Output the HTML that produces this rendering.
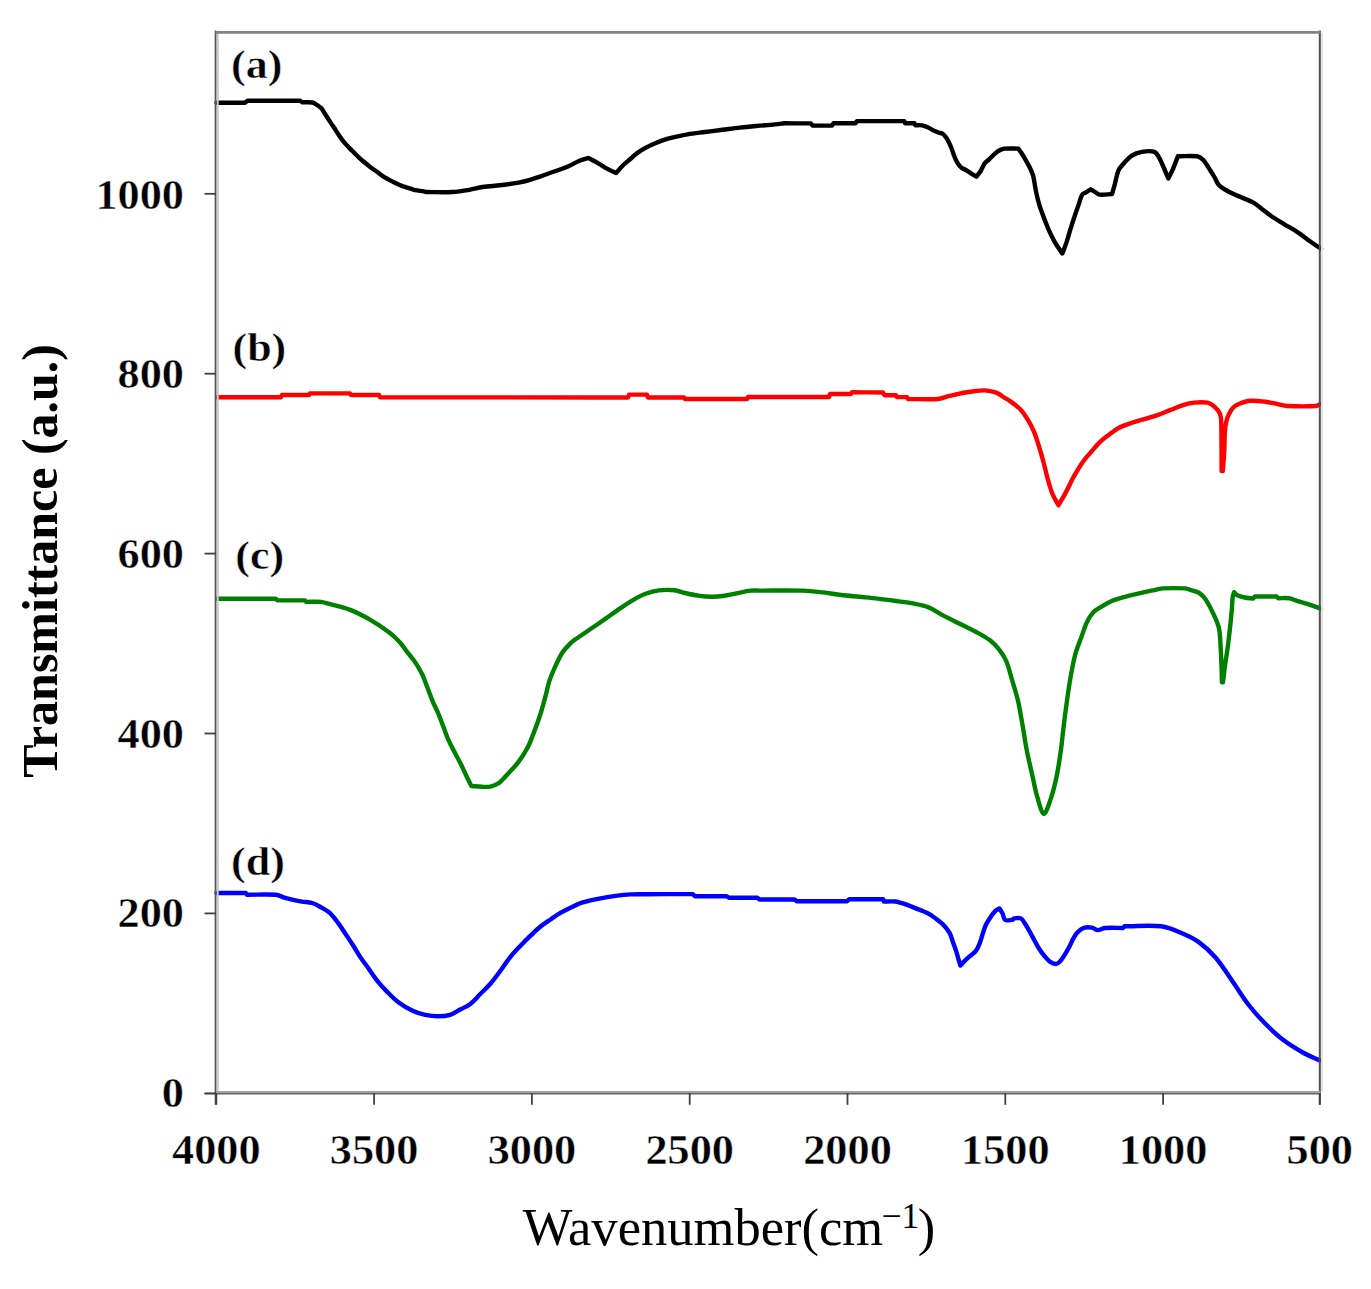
<!DOCTYPE html>
<html><head><meta charset="utf-8"><style>
html,body{margin:0;padding:0;background:#fff;}
svg{display:block;}
text{font-family:"Liberation Serif",serif;}
</style></head><body>
<svg width="1371" height="1289" viewBox="0 0 1371 1289">
<rect width="1371" height="1289" fill="#fff"/>
<g fill="none" stroke-linejoin="round" stroke-linecap="round" stroke-width="4.4">
<path stroke="#000" d="M216.50,102.70 C226.00,102.70 235.50,102.70 245.00,102.70 C245.83,102.03 246.67,101.37 247.50,100.70 C265.00,100.70 282.50,100.70 300.00,100.70 C300.83,101.23 301.67,101.77 302.50,102.30 C305.83,102.37 309.31,101.88 312.50,102.50 C314.28,102.85 315.83,104.20 317.40,105.20 C318.70,106.03 320.06,106.88 321.10,108.00 C322.26,109.25 323.05,110.85 324.00,112.30 C325.19,114.12 326.32,115.98 327.50,117.80 C328.65,119.58 329.83,121.34 331.00,123.10 C332.16,124.84 333.36,126.55 334.50,128.30 C335.69,130.12 336.80,131.99 338.00,133.80 C339.30,135.76 340.59,137.73 342.00,139.60 C343.25,141.26 344.62,142.84 346.00,144.40 C347.28,145.84 348.65,147.22 350.00,148.60 C351.32,149.95 352.67,151.27 354.00,152.60 C355.33,153.93 356.63,155.30 358.00,156.60 C359.70,158.20 361.42,159.79 363.20,161.30 C365.68,163.39 368.21,165.45 370.80,167.40 C372.81,168.91 374.97,170.22 377.00,171.70 C379.04,173.18 380.91,174.90 383.00,176.30 C384.84,177.53 386.85,178.52 388.80,179.60 C390.22,180.39 391.66,181.15 393.10,181.90 C394.56,182.65 396.01,183.42 397.50,184.10 C398.94,184.76 400.41,185.36 401.90,185.90 C403.35,186.43 404.83,186.84 406.30,187.30 C407.73,187.74 409.18,188.13 410.60,188.60 C412.08,189.09 413.48,189.88 415.00,190.20 C417.88,190.81 420.88,190.92 423.80,191.40 C424.55,191.52 425.27,191.80 426.00,192.00 C434.67,192.00 443.36,192.44 452.00,192.00 C457.86,191.70 463.70,190.75 469.50,189.80 C473.90,189.08 478.19,187.65 482.60,187.00 C488.36,186.15 494.21,185.95 500.00,185.30 C503.68,184.89 507.34,184.35 511.00,183.80 C514.01,183.35 517.03,182.93 520.00,182.30 C523.36,181.59 526.70,180.74 530.00,179.80 C533.36,178.84 536.69,177.73 540.00,176.60 C545.02,174.89 550.01,173.10 555.00,171.30 C559.35,169.73 563.76,168.32 568.00,166.50 C571.93,164.82 575.57,162.46 579.50,160.80 C582.34,159.60 585.37,158.87 588.30,157.90 C591.80,159.80 595.35,161.62 598.80,163.60 C601.75,165.29 604.53,167.27 607.50,168.90 C610.29,170.43 613.23,171.70 616.10,173.10 C618.43,170.47 620.62,167.68 623.10,165.20 C625.15,163.15 627.50,161.40 629.70,159.50 C631.90,157.60 634.00,155.57 636.30,153.80 C638.37,152.21 640.56,150.75 642.80,149.40 C644.93,148.12 647.17,147.00 649.40,145.90 C651.57,144.83 653.78,143.85 656.00,142.90 C658.15,141.98 660.30,141.06 662.50,140.30 C664.96,139.46 667.47,138.71 670.00,138.10 C675.80,136.71 681.62,135.32 687.50,134.30 C693.29,133.29 699.16,132.75 705.00,132.00 C710.83,131.25 716.67,130.53 722.50,129.80 C728.33,129.07 734.16,128.25 740.00,127.60 C745.82,126.95 751.66,126.43 757.50,125.90 C763.33,125.37 769.17,124.97 775.00,124.40 C778.01,124.10 781.00,123.67 784.00,123.30 C793.00,123.33 802.00,123.37 811.00,123.40 C811.50,124.13 812.00,124.87 812.50,125.60 C819.00,125.60 825.50,125.60 832.00,125.60 C832.50,124.80 833.00,124.00 833.50,123.20 C840.83,123.20 848.17,123.20 855.50,123.20 C856.00,122.50 856.50,121.80 857.00,121.10 C872.73,121.10 888.47,121.10 904.20,121.10 C904.53,121.83 904.87,122.57 905.20,123.30 C908.27,123.30 911.33,123.30 914.40,123.30 C914.73,123.97 915.07,124.63 915.40,125.30 C917.63,125.30 919.93,124.94 922.10,125.30 C924.19,125.64 926.25,126.51 928.20,127.40 C929.99,128.21 931.54,129.52 933.30,130.40 C934.94,131.22 936.68,131.86 938.40,132.50 C939.91,133.06 941.70,133.14 943.00,134.00 C944.27,134.84 945.19,136.31 946.10,137.60 C947.23,139.21 948.22,140.94 949.10,142.70 C950.09,144.67 950.91,146.74 951.70,148.80 C952.61,151.17 953.25,153.65 954.20,156.00 C955.11,158.25 956.04,160.54 957.30,162.60 C958.44,164.44 959.79,166.30 961.40,167.70 C962.62,168.76 964.38,169.16 965.80,170.00 C967.81,171.19 969.72,172.56 971.70,173.80 C973.22,174.76 974.77,175.67 976.30,176.60 C977.67,174.90 979.24,173.34 980.40,171.50 C981.98,169.00 982.79,165.97 984.50,163.60 C985.72,161.90 987.66,160.76 989.20,159.30 C991.16,157.43 992.95,155.36 995.00,153.60 C996.45,152.36 998.03,151.20 999.70,150.30 C1001.13,149.53 1002.69,148.75 1004.30,148.60 C1008.89,148.18 1013.63,148.60 1018.30,148.60 C1019.30,150.00 1020.37,151.35 1021.30,152.80 C1022.90,155.29 1024.43,157.83 1025.90,160.40 C1027.33,162.90 1028.76,165.41 1030.00,168.00 C1031.09,170.27 1032.10,172.61 1032.90,175.00 C1033.44,176.61 1033.68,178.32 1034.00,180.00 C1034.78,184.12 1035.32,188.30 1036.20,192.40 C1037.09,196.56 1038.07,200.73 1039.30,204.80 C1040.57,208.99 1042.17,213.09 1043.70,217.20 C1045.27,221.39 1046.78,225.62 1048.60,229.70 C1050.48,233.92 1052.50,238.10 1054.80,242.10 C1057.07,246.04 1059.80,249.70 1062.30,253.50 C1063.73,249.70 1065.31,245.95 1066.60,242.10 C1067.97,238.01 1069.02,233.82 1070.30,229.70 C1071.72,225.12 1073.18,220.55 1074.70,216.00 C1076.08,211.85 1077.56,207.73 1079.00,203.60 C1080.02,200.66 1080.55,197.32 1082.10,194.80 C1082.85,193.59 1084.63,193.20 1085.90,192.40 C1087.53,191.37 1089.17,190.33 1090.80,189.30 C1092.27,190.23 1093.72,191.20 1095.20,192.10 C1096.62,192.96 1097.91,194.42 1099.50,194.60 C1103.54,195.05 1107.90,194.20 1112.10,194.00 C1113.03,190.60 1113.98,187.20 1114.90,183.80 C1116.08,179.40 1116.70,174.75 1118.40,170.60 C1119.34,168.32 1121.14,166.37 1122.80,164.50 C1125.51,161.44 1128.15,158.00 1131.50,155.80 C1134.55,153.80 1138.38,152.52 1142.00,151.90 C1145.98,151.22 1150.82,150.61 1154.30,151.90 C1156.65,152.77 1158.09,156.03 1159.50,158.40 C1161.29,161.40 1162.49,164.78 1163.90,168.00 C1165.42,171.48 1166.83,175.00 1168.30,178.50 C1169.73,175.60 1171.32,172.77 1172.60,169.80 C1174.52,165.37 1176.13,160.80 1177.90,156.30 C1184.33,156.30 1191.03,155.38 1197.20,156.30 C1199.50,156.64 1201.70,158.39 1203.30,160.10 C1205.96,162.95 1207.81,166.67 1210.00,170.00 C1211.51,172.30 1213.00,174.63 1214.40,177.00 C1215.93,179.59 1216.79,182.75 1218.80,184.90 C1221.16,187.42 1224.42,189.28 1227.50,191.00 C1231.69,193.34 1236.21,195.13 1240.60,197.10 C1244.97,199.06 1249.65,200.47 1253.80,202.80 C1256.95,204.57 1259.60,207.21 1262.50,209.40 C1266.00,212.04 1269.38,214.84 1273.00,217.30 C1276.68,219.81 1280.58,221.99 1284.40,224.30 C1288.75,226.93 1293.27,229.29 1297.50,232.10 C1302.04,235.12 1306.25,238.64 1310.70,241.80 C1314.08,244.20 1317.57,246.47 1321.00,248.80"/>
<path stroke="#ff0000" d="M217.00,397.20 C238.33,397.20 259.67,397.20 281.00,397.20 C281.33,396.47 281.67,395.73 282.00,395.00 C291.00,395.00 300.00,395.00 309.00,395.00 C309.33,394.47 309.67,393.93 310.00,393.40 C323.33,393.40 336.67,393.40 350.00,393.40 C350.33,393.93 350.67,394.47 351.00,395.00 C360.33,395.00 369.67,395.00 379.00,395.00 C379.33,395.73 379.67,396.47 380.00,397.20 C453.33,397.30 526.67,397.41 600.00,397.50 C609.33,397.51 618.67,397.50 628.00,397.50 C628.33,396.53 628.67,395.57 629.00,394.60 C635.00,394.60 641.00,394.60 647.00,394.60 C647.33,395.57 647.67,396.53 648.00,397.50 C660.00,397.50 672.00,397.50 684.00,397.50 C684.33,398.00 684.67,398.50 685.00,399.00 C705.67,399.00 726.33,399.00 747.00,399.00 C747.33,398.33 747.67,397.67 748.00,397.00 C775.00,397.00 802.00,397.00 829.00,397.00 C829.33,396.00 829.67,395.00 830.00,394.00 C837.00,394.00 844.00,394.00 851.00,394.00 C851.33,393.43 851.67,392.87 852.00,392.30 C862.33,392.37 872.67,392.43 883.00,392.50 C883.50,393.40 884.00,394.30 884.50,395.20 C888.33,395.20 892.17,395.20 896.00,395.20 C896.33,395.83 896.67,396.47 897.00,397.10 C900.33,397.10 903.67,397.10 907.00,397.10 C907.33,397.73 907.67,398.37 908.00,399.00 C917.93,399.00 927.96,399.68 937.80,399.00 C941.39,398.75 944.79,397.07 948.30,396.20 C950.82,395.57 953.36,395.05 955.90,394.50 C959.03,393.82 962.15,393.05 965.30,392.50 C968.78,391.89 972.29,391.39 975.80,391.00 C978.62,390.69 981.48,390.26 984.30,390.40 C987.48,390.56 990.69,391.18 993.80,391.90 C995.43,392.28 997.03,392.91 998.50,393.70 C1000.20,394.61 1001.66,395.96 1003.30,397.00 C1005.53,398.42 1007.96,399.55 1010.10,401.10 C1013.59,403.62 1017.27,406.09 1020.20,409.20 C1023.30,412.49 1025.84,416.41 1028.20,420.30 C1030.54,424.15 1032.60,428.23 1034.30,432.40 C1036.30,437.30 1037.73,442.44 1039.30,447.50 C1040.76,452.20 1042.13,456.94 1043.40,461.70 C1044.83,467.04 1045.90,472.48 1047.40,477.80 C1048.93,483.25 1050.38,488.78 1052.50,494.00 C1054.08,497.91 1056.50,501.47 1058.50,505.20 C1060.87,501.10 1063.37,497.07 1065.60,492.90 C1068.07,488.27 1070.20,483.47 1072.60,478.80 C1073.44,477.17 1074.35,475.57 1075.30,474.00 C1077.85,469.80 1080.23,465.47 1083.10,461.50 C1085.77,457.81 1088.90,454.44 1091.90,451.00 C1094.74,447.74 1097.48,444.36 1100.60,441.40 C1103.31,438.83 1106.40,436.65 1109.40,434.40 C1112.23,432.28 1114.98,429.92 1118.10,428.30 C1122.28,426.12 1126.83,424.56 1131.30,423.00 C1135.60,421.50 1140.04,420.42 1144.40,419.10 C1148.77,417.78 1153.19,416.61 1157.50,415.10 C1161.96,413.54 1166.30,411.62 1170.70,409.90 C1175.06,408.19 1179.34,406.19 1183.80,404.80 C1187.17,403.75 1190.69,402.93 1194.20,402.60 C1198.59,402.19 1203.22,401.96 1207.50,402.60 C1209.49,402.90 1211.37,404.19 1213.00,405.40 C1214.83,406.76 1216.60,408.43 1217.90,410.30 C1219.17,412.13 1220.34,414.30 1220.70,416.50 C1221.51,421.50 1221.32,426.76 1221.40,431.90 C1221.62,444.93 1221.53,457.97 1221.60,471.00 C1222.00,471.00 1222.40,471.00 1222.80,471.00 C1223.27,464.93 1223.87,458.87 1224.20,452.80 C1224.57,445.84 1224.44,438.85 1224.90,431.90 C1225.14,428.38 1225.51,424.82 1226.30,421.40 C1226.91,418.75 1227.88,416.12 1229.10,413.70 C1230.21,411.49 1231.56,409.22 1233.30,407.50 C1234.83,405.98 1236.88,404.81 1238.90,404.00 C1242.44,402.58 1246.22,401.13 1250.00,400.80 C1255.05,400.36 1260.31,401.08 1265.40,401.70 C1269.58,402.21 1273.66,403.40 1277.80,404.20 C1281.09,404.84 1284.36,405.84 1287.70,406.00 C1297.16,406.44 1306.82,406.52 1316.20,406.00 C1317.58,405.92 1318.73,404.80 1320.00,404.20"/>
<path stroke="#008000" d="M217.00,598.70 C236.60,598.70 256.20,598.70 275.80,598.70 C276.30,599.27 276.80,599.83 277.30,600.40 C286.53,600.40 295.77,600.40 305.00,600.40 C305.47,600.90 305.93,601.40 306.40,601.90 C311.27,601.90 316.18,601.50 321.00,601.90 C323.48,602.10 325.88,603.04 328.30,603.70 C335.82,605.77 343.55,607.32 350.80,610.10 C357.45,612.65 363.83,616.10 370.00,619.70 C376.67,623.60 383.16,627.93 389.30,632.60 C393.16,635.53 396.72,638.94 400.00,642.50 C402.79,645.54 404.99,649.11 407.50,652.40 C410.36,656.14 413.50,659.69 416.10,663.60 C418.47,667.16 420.57,670.94 422.40,674.80 C424.30,678.81 425.69,683.06 427.30,687.20 C429.16,691.99 430.82,696.86 432.80,701.60 C434.45,705.56 436.54,709.34 438.20,713.30 C440.14,717.91 441.81,722.63 443.60,727.30 C445.18,731.43 446.52,735.66 448.30,739.70 C450.16,743.93 452.39,747.99 454.50,752.10 C456.52,756.02 458.73,759.85 460.70,763.80 C462.87,768.15 464.79,772.62 466.90,777.00 C468.36,780.02 469.90,783.00 471.40,786.00 C474.83,786.27 478.26,786.69 481.70,786.80 C484.60,786.89 487.60,787.15 490.40,786.60 C493.03,786.08 495.85,785.19 498.00,783.60 C501.82,780.79 504.98,776.91 508.30,773.40 C511.82,769.68 515.44,765.99 518.50,761.90 C521.84,757.45 524.93,752.72 527.50,747.80 C530.06,742.89 531.91,737.59 533.90,732.40 C536.17,726.49 538.36,720.53 540.30,714.50 C542.20,708.60 543.78,702.59 545.40,696.60 C546.78,691.49 547.69,686.23 549.30,681.20 C550.69,676.83 552.50,672.58 554.40,668.40 C556.77,663.18 559.06,657.82 562.10,653.00 C564.16,649.72 567.00,646.90 569.70,644.10 C571.30,642.44 573.16,641.00 575.00,639.60 C576.59,638.40 578.35,637.42 580.00,636.30 C584.38,633.32 588.74,630.31 593.10,627.30 C597.51,624.25 601.91,621.17 606.30,618.10 C610.67,615.04 614.99,611.90 619.40,608.90 C623.72,605.96 627.98,602.90 632.50,600.30 C636.72,597.87 641.06,595.51 645.60,593.80 C649.83,592.21 654.32,590.94 658.80,590.40 C663.96,589.78 669.33,589.79 674.50,590.30 C678.07,590.65 681.47,592.21 685.00,593.00 C689.37,593.98 693.77,594.96 698.20,595.60 C702.53,596.23 706.93,596.77 711.30,596.80 C715.66,596.83 720.07,596.41 724.40,595.80 C728.81,595.18 733.13,593.96 737.50,593.10 C741.89,592.23 746.27,591.11 750.70,590.60 C753.47,590.28 756.30,590.60 759.10,590.60 C773.70,590.60 788.32,590.19 802.90,590.60 C809.59,590.79 816.25,591.64 822.90,592.40 C829.02,593.10 835.08,594.26 841.20,595.00 C847.25,595.73 853.33,596.20 859.40,596.80 C865.47,597.40 871.54,597.90 877.60,598.60 C883.71,599.30 889.81,600.15 895.90,601.00 C901.97,601.85 908.09,602.53 914.10,603.70 C919.02,604.66 924.08,605.56 928.70,607.40 C933.21,609.19 937.17,612.31 941.50,614.60 C947.51,617.78 953.63,620.75 959.70,623.80 C965.76,626.85 971.95,629.66 977.90,632.90 C982.05,635.16 986.30,637.41 990.00,640.30 C993.27,642.85 996.24,645.93 998.80,649.20 C1001.64,652.83 1004.38,656.77 1006.20,661.00 C1008.81,667.07 1010.21,673.71 1012.10,680.10 C1014.14,686.98 1016.38,693.82 1018.00,700.80 C1019.81,708.59 1021.00,716.52 1022.40,724.40 C1023.97,733.22 1025.18,742.11 1026.90,750.90 C1028.65,759.81 1030.81,768.64 1032.80,777.50 C1034.24,783.91 1035.30,790.43 1037.20,796.70 C1038.97,802.53 1041.41,813.28 1043.80,813.80 C1045.85,814.25 1048.79,804.53 1050.50,799.60 C1052.99,792.43 1054.82,784.95 1056.40,777.50 C1058.26,768.72 1059.54,759.80 1060.80,750.90 C1061.97,742.60 1062.67,734.22 1063.70,725.90 C1064.87,716.52 1066.06,707.15 1067.40,697.80 C1068.53,689.92 1069.67,682.03 1071.10,674.20 C1072.37,667.30 1073.62,660.35 1075.50,653.60 C1077.12,647.78 1079.53,642.19 1081.60,636.50 C1083.36,631.65 1084.79,626.63 1087.00,622.00 C1088.62,618.60 1090.54,615.10 1093.10,612.40 C1095.51,609.86 1098.88,608.20 1101.90,606.30 C1104.71,604.53 1107.58,602.76 1110.60,601.40 C1113.41,600.13 1116.43,599.28 1119.40,598.40 C1123.73,597.11 1128.12,596.00 1132.50,594.90 C1136.85,593.80 1141.22,592.76 1145.60,591.80 C1148.52,591.16 1151.47,590.67 1154.40,590.10 C1157.33,589.53 1160.23,588.57 1163.20,588.40 C1170.43,588.00 1177.79,588.02 1185.00,588.40 C1186.72,588.49 1188.34,589.30 1190.00,589.80 C1192.84,590.66 1195.96,591.08 1198.50,592.50 C1200.80,593.78 1202.79,595.86 1204.50,597.90 C1206.22,599.96 1207.48,602.44 1208.80,604.80 C1210.35,607.57 1211.74,610.43 1213.10,613.30 C1214.57,616.40 1216.15,619.48 1217.30,622.70 C1218.28,625.45 1219.12,628.31 1219.50,631.20 C1220.25,636.84 1220.37,642.60 1220.70,648.30 C1221.03,654.00 1221.30,659.70 1221.50,665.40 C1221.70,671.03 1221.77,676.67 1221.90,682.30 C1222.27,682.30 1222.63,682.30 1223.00,682.30 C1223.67,676.67 1224.24,671.02 1225.00,665.40 C1225.77,659.69 1226.84,654.01 1227.60,648.30 C1228.54,641.21 1229.32,634.11 1230.10,627.00 C1230.72,621.31 1231.30,615.61 1231.80,609.90 C1232.17,605.64 1232.17,601.33 1232.70,597.10 C1232.91,595.43 1233.57,593.83 1234.00,592.20 C1235.10,593.23 1235.98,594.64 1237.30,595.30 C1239.52,596.41 1242.12,597.00 1244.60,597.50 C1247.45,598.07 1250.40,598.17 1253.30,598.50 C1253.80,597.83 1254.30,597.17 1254.80,596.50 C1262.10,596.50 1269.40,596.50 1276.70,596.50 C1277.17,597.07 1277.63,597.63 1278.10,598.20 C1281.77,598.20 1285.51,597.75 1289.10,598.20 C1291.34,598.48 1293.42,599.71 1295.60,600.40 C1298.02,601.17 1300.47,601.87 1302.90,602.60 C1305.33,603.33 1307.80,603.98 1310.20,604.80 C1313.83,606.04 1317.40,607.47 1321.00,608.80"/>
<path stroke="#0000ff" d="M216.50,893.00 C226.27,893.00 236.03,893.00 245.80,893.00 C246.27,893.60 246.73,894.20 247.20,894.80 C256.80,894.80 266.52,894.08 276.00,894.80 C278.88,895.02 281.50,896.78 284.30,897.60 C287.17,898.44 290.08,899.13 293.00,899.80 C295.92,900.47 298.85,901.11 301.80,901.60 C305.28,902.18 308.95,902.03 312.30,903.00 C315.18,903.83 317.85,905.52 320.50,907.00 C323.58,908.72 326.93,910.24 329.50,912.60 C332.96,915.78 335.75,919.79 338.60,923.60 C341.29,927.19 343.61,931.06 346.10,934.80 C348.58,938.53 351.09,942.23 353.50,946.00 C356.06,950.00 358.37,954.16 361.00,958.10 C363.33,961.59 365.95,964.89 368.40,968.30 C371.51,972.62 374.38,977.14 377.70,981.30 C380.58,984.91 383.74,988.32 387.00,991.60 C390.87,995.49 394.72,999.53 399.10,1002.80 C403.42,1006.03 408.21,1008.83 413.10,1011.10 C416.91,1012.87 421.08,1014.04 425.20,1014.90 C429.38,1015.77 433.74,1016.32 438.00,1016.30 C442.04,1016.28 446.28,1015.97 450.10,1014.80 C453.68,1013.70 456.85,1011.29 460.20,1009.50 C463.58,1007.69 467.30,1006.32 470.30,1004.00 C474.00,1001.15 476.97,997.34 480.30,994.00 C483.67,990.61 487.27,987.41 490.40,983.80 C494.00,979.64 497.21,975.13 500.50,970.70 C503.95,966.06 506.99,961.10 510.60,956.60 C513.72,952.70 517.25,949.12 520.70,945.50 C523.98,942.05 527.36,938.69 530.80,935.40 C534.06,932.29 537.30,929.12 540.80,926.30 C544.00,923.72 547.50,921.52 550.90,919.20 C553.90,917.15 556.85,915.01 560.00,913.20 C564.22,910.77 568.60,908.59 573.00,906.50 C576.20,904.99 579.42,903.42 582.80,902.40 C588.15,900.79 593.70,899.69 599.20,898.60 C604.63,897.52 610.11,896.63 615.60,895.90 C620.71,895.23 625.86,894.70 631.00,894.40 C635.66,894.13 640.33,894.27 645.00,894.20 C660.93,894.17 676.87,894.13 692.80,894.10 C693.53,894.83 694.27,895.57 695.00,896.30 C705.57,896.30 716.13,896.30 726.70,896.30 C727.43,896.80 728.17,897.30 728.90,897.80 C738.40,897.80 747.90,897.80 757.40,897.80 C758.13,898.37 758.87,898.93 759.60,899.50 C771.27,899.50 782.93,899.50 794.60,899.50 C795.33,900.10 796.07,900.70 796.80,901.30 C813.57,901.30 830.33,901.30 847.10,901.30 C847.83,900.57 848.57,899.83 849.30,899.10 C860.63,899.17 871.97,899.23 883.30,899.30 C883.53,900.03 883.77,900.77 884.00,901.50 C887.83,901.50 891.70,901.20 895.50,901.50 C897.24,901.64 898.91,902.34 900.60,902.80 C902.31,903.27 904.03,903.73 905.70,904.30 C907.43,904.89 909.10,905.62 910.80,906.30 C912.54,906.99 914.26,907.71 916.00,908.40 C917.70,909.08 919.41,909.72 921.10,910.40 C922.81,911.09 924.55,911.71 926.20,912.50 C927.95,913.34 929.67,914.25 931.30,915.30 C933.04,916.42 934.65,917.74 936.30,919.00 C938.35,920.57 940.49,922.07 942.40,923.80 C943.76,925.03 944.98,926.45 946.10,927.90 C947.48,929.68 948.93,931.48 949.90,933.50 C951.23,936.25 951.97,939.30 953.00,942.20 C954.03,945.10 955.16,947.97 956.10,950.90 C957.02,953.77 957.75,956.70 958.60,959.60 C959.19,961.60 959.80,963.60 960.40,965.60 C961.87,964.00 963.26,962.33 964.80,960.80 C966.56,959.06 968.45,957.45 970.30,955.80 C972.15,954.15 974.43,952.84 975.90,950.90 C977.56,948.71 978.67,946.00 979.70,943.40 C980.97,940.20 981.71,936.78 982.80,933.50 C983.77,930.58 984.58,927.57 985.90,924.80 C987.25,921.97 989.03,919.31 990.80,916.70 C992.13,914.74 993.50,912.70 995.20,911.10 C996.40,909.97 998.07,909.37 999.50,908.50 C1000.53,910.20 1001.73,911.82 1002.60,913.60 C1003.60,915.65 1003.51,919.01 1005.10,920.00 C1006.84,921.08 1010.10,919.87 1012.60,919.80 C1013.00,919.33 1013.40,918.87 1013.80,918.40 C1016.13,918.40 1018.93,917.45 1020.80,918.40 C1022.80,919.42 1024.01,922.24 1025.40,924.30 C1026.91,926.54 1028.18,928.94 1029.50,931.30 C1031.11,934.17 1032.61,937.11 1034.20,940.00 C1035.71,942.75 1037.11,945.57 1038.80,948.20 C1040.61,951.00 1042.56,953.74 1044.70,956.30 C1046.46,958.41 1048.27,960.74 1050.50,962.20 C1052.13,963.27 1054.50,964.12 1056.30,963.90 C1057.80,963.72 1059.27,962.20 1060.40,961.00 C1062.00,959.30 1063.24,957.20 1064.50,955.20 C1066.17,952.54 1067.72,949.78 1069.20,947.00 C1070.82,943.95 1072.09,940.69 1073.80,937.70 C1074.99,935.63 1076.19,933.40 1077.90,931.80 C1079.79,930.04 1082.17,928.33 1084.60,927.60 C1086.84,926.93 1089.56,927.16 1091.90,927.60 C1093.96,927.99 1095.79,930.04 1097.80,930.10 C1100.15,930.17 1102.53,928.21 1105.00,928.00 C1110.93,927.51 1117.00,928.00 1123.00,928.00 C1123.50,927.43 1124.00,926.87 1124.50,926.30 C1136.77,926.30 1149.27,924.86 1161.30,926.30 C1168.43,927.16 1175.32,930.39 1182.00,933.20 C1187.82,935.65 1193.71,938.41 1198.80,942.10 C1204.88,946.51 1210.58,951.79 1215.50,957.50 C1221.75,964.76 1226.78,973.11 1232.30,981.00 C1237.98,989.11 1243.04,997.69 1249.10,1005.50 C1254.24,1012.13 1260.01,1018.32 1265.90,1024.30 C1271.21,1029.69 1276.70,1035.02 1282.70,1039.60 C1289.00,1044.42 1295.87,1048.62 1302.80,1052.50 C1308.30,1055.58 1314.27,1057.83 1320.00,1060.50"/>
</g>
<g fill="none">
<line x1="217.6" y1="32" x2="217.6" y2="1091" stroke="#c8c8c8" stroke-width="2.2"/>
<line x1="215.5" y1="30.5" x2="215.5" y2="1104.8" stroke="#555" stroke-width="1.7"/>
<line x1="1322" y1="33" x2="1322" y2="1092" stroke="#e4e4e4" stroke-width="2"/>
<line x1="1319.8" y1="30.5" x2="1319.8" y2="1104.8" stroke="#505050" stroke-width="2"/>
<line x1="216" y1="1092.1" x2="1320.5" y2="1092.1" stroke="#a2a2a2" stroke-width="2"/>
<line x1="204.5" y1="1093.8" x2="1320.5" y2="1093.8" stroke="#666" stroke-width="1.6"/>
<line x1="215.5" y1="32.4" x2="1320.5" y2="32.4" stroke="#828282" stroke-width="2.8"/>
</g>
<g stroke="#404040" stroke-width="1.8" fill="none">
<line x1="216.3" y1="1093" x2="216.3" y2="1104.8"/><line x1="374.1" y1="1093" x2="374.1" y2="1104.8"/><line x1="531.9" y1="1093" x2="531.9" y2="1104.8"/><line x1="689.7" y1="1093" x2="689.7" y2="1104.8"/><line x1="847.5" y1="1093" x2="847.5" y2="1104.8"/><line x1="1005.3" y1="1093" x2="1005.3" y2="1104.8"/><line x1="1163.1" y1="1093" x2="1163.1" y2="1104.8"/><line x1="1319.8" y1="1093" x2="1319.8" y2="1104.8"/><line x1="204.5" y1="193.8" x2="216" y2="193.8"/><line x1="204.5" y1="373.7" x2="216" y2="373.7"/><line x1="204.5" y1="553.6" x2="216" y2="553.6"/><line x1="204.5" y1="733.5" x2="216" y2="733.5"/><line x1="204.5" y1="913.4" x2="216" y2="913.4"/><line x1="204.5" y1="1093.3" x2="216" y2="1093.3"/>
</g>
<g font-size="43" font-weight="bold" fill="#000" stroke="#fff" stroke-width="0.45">
<text transform="translate(216.30,1164.00) scale(1.0300,1.0000)" text-anchor="middle">4000</text><text transform="translate(374.10,1164.00) scale(1.0300,1.0000)" text-anchor="middle">3500</text><text transform="translate(531.90,1164.00) scale(1.0300,1.0000)" text-anchor="middle">3000</text><text transform="translate(689.70,1164.00) scale(1.0300,1.0000)" text-anchor="middle">2500</text><text transform="translate(847.50,1164.00) scale(1.0300,1.0000)" text-anchor="middle">2000</text><text transform="translate(1005.30,1164.00) scale(1.0300,1.0000)" text-anchor="middle">1500</text><text transform="translate(1163.10,1164.00) scale(1.0300,1.0000)" text-anchor="middle">1000</text><text transform="translate(1319.80,1164.00) scale(1.0300,1.0000)" text-anchor="middle">500</text>
<text transform="translate(184.00,208.70) scale(1.0300,1.0000)" text-anchor="end">1000</text><text transform="translate(184.00,388.30) scale(1.0300,1.0000)" text-anchor="end">800</text><text transform="translate(184.00,567.90) scale(1.0300,1.0000)" text-anchor="end">600</text><text transform="translate(184.00,747.50) scale(1.0300,1.0000)" text-anchor="end">400</text><text transform="translate(184.00,927.10) scale(1.0300,1.0000)" text-anchor="end">200</text><text transform="translate(184.00,1106.70) scale(1.0300,1.0000)" text-anchor="end">0</text>
</g>
<g font-size="40.5" font-weight="bold" fill="#000" stroke="#fff" stroke-width="0.45">
<text transform="translate(231.07,77.60) scale(1.0864,1.0000)" text-anchor="start">(a)</text><text transform="translate(232.50,360.50) scale(1.0864,1.0000)" text-anchor="start">(b)</text><text transform="translate(235.30,568.50) scale(1.0864,1.0000)" text-anchor="start">(c)</text><text transform="translate(231.10,875.30) scale(1.0864,1.0000)" text-anchor="start">(d)</text>
</g>
<text transform="translate(57.2,560.85) rotate(-90)" x="0" y="0" font-size="50" font-weight="bold" text-anchor="middle">Transmittance (a.u.)</text>
<g font-size="53">
<text transform="translate(522.65,1244.60) scale(0.9920,1.0000)" text-anchor="start">Wavenumber(cm</text>
<text transform="translate(881.50,1228.10) scale(1.0000,1.0000)" text-anchor="start" font-size="35.5">&#8722;</text>
<text transform="translate(901.60,1228.10) scale(1.0000,1.0000)" text-anchor="start" font-size="35.5">1</text>
<text transform="translate(917.80,1244.60) scale(0.9920,1.0000)" text-anchor="start">)</text>
</g>
</svg>
</body></html>
